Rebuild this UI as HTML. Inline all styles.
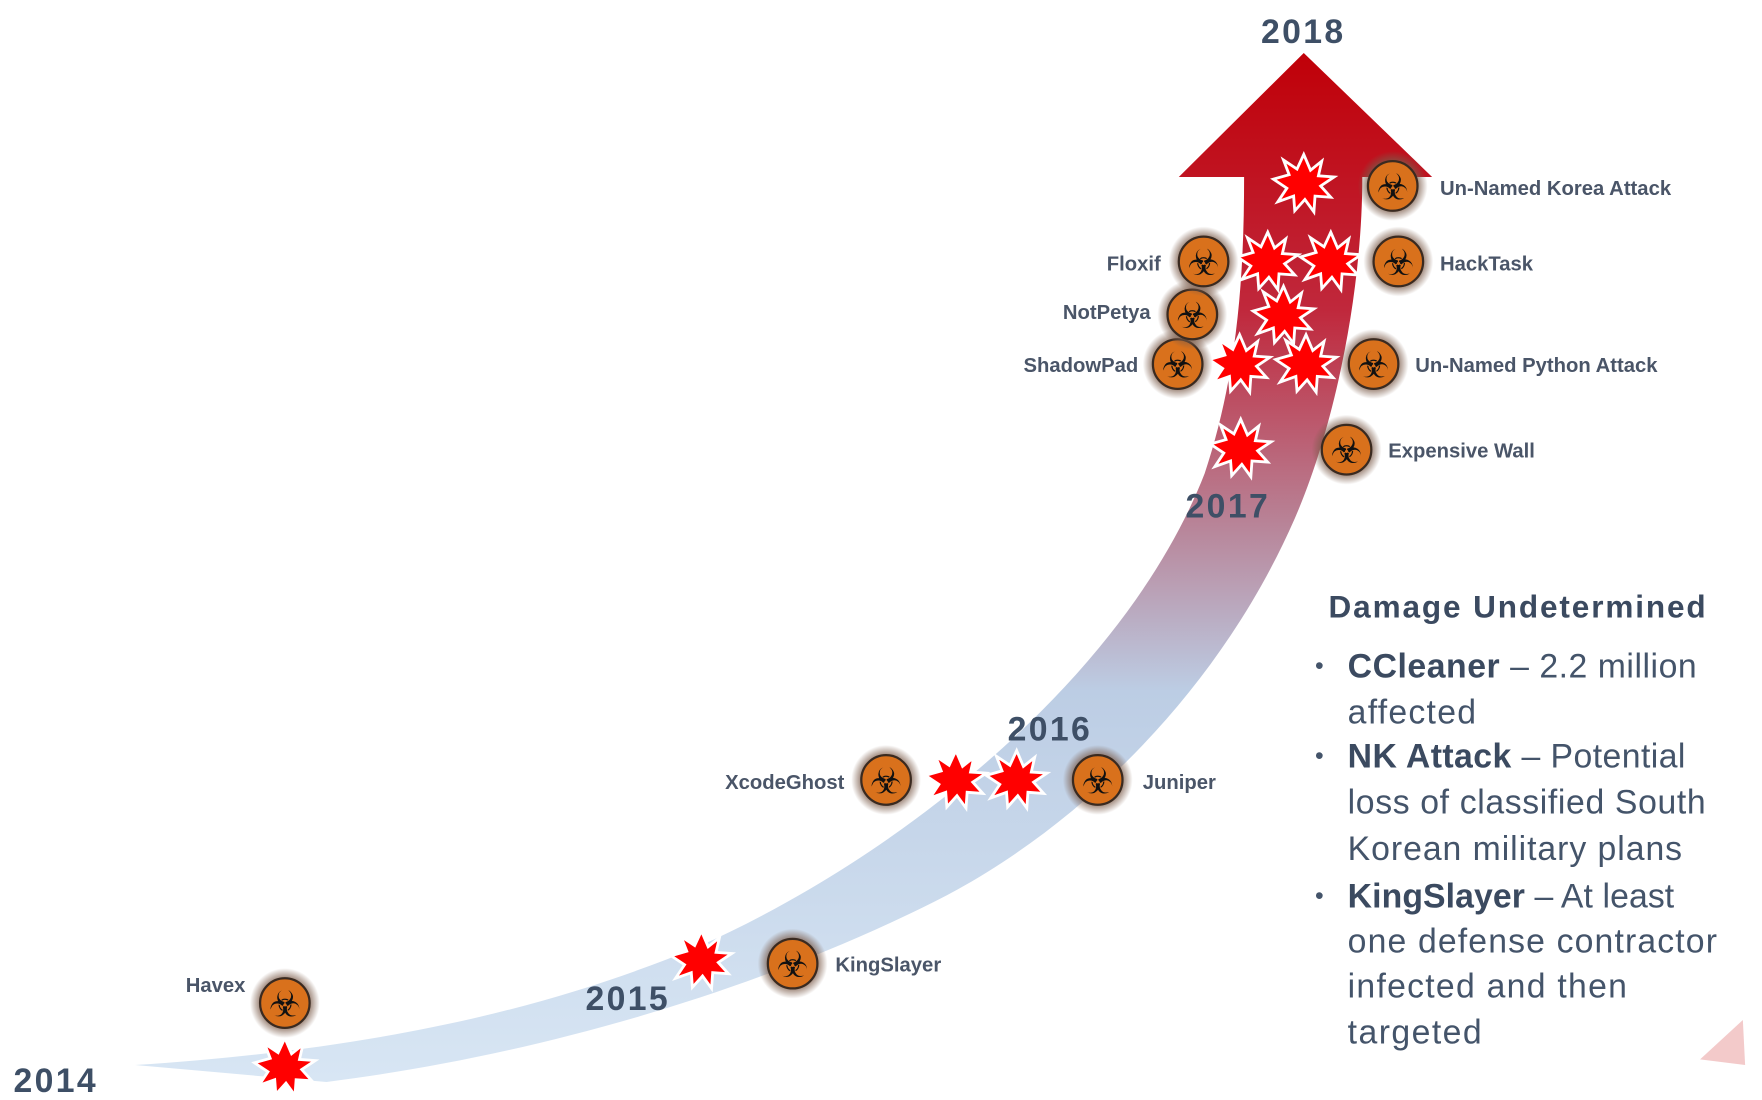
<!DOCTYPE html>
<html><head><meta charset="utf-8"><style>
html,body{margin:0;padding:0;background:#fff;}
svg{display:block;}
.lb{font-family:"Liberation Sans",sans-serif;font-weight:bold;font-size:18px;fill:#4a5568;}
.yr{font-family:"Liberation Sans",sans-serif;font-weight:bold;font-size:30px;fill:#3e4f66;}
.tx{font-family:"Liberation Sans Narrow","Liberation Sans",sans-serif;font-size:30px;fill:#44546a;}
.b{font-weight:bold;fill:#3b4a60;}
</style></head><body>
<svg width="1762" height="1100" viewBox="0 0 1565 976" preserveAspectRatio="none" xmlns="http://www.w3.org/2000/svg">
<defs>
<linearGradient id="g" x1="0" y1="0" x2="0" y2="1" gradientUnits="objectBoundingBox">
<stop offset="0" stop-color="#c00008"/>
<stop offset="0.25" stop-color="#c0283c"/>
<stop offset="0.45" stop-color="#b88094"/>
<stop offset="0.62" stop-color="#bccde4"/>
<stop offset="1" stop-color="#d8e6f4"/>
</linearGradient>
<radialGradient id="halo"><stop offset="0.6" stop-color="#7a5a48"/><stop offset="1" stop-color="#7a5a48" stop-opacity="0"/></radialGradient>
<symbol id="bio" viewBox="-32 -32 64 64" overflow="visible">
<circle r="31" fill="url(#halo)"/>
<circle r="22" fill="#d9711c" stroke="#3a2a20" stroke-width="2"/>
<text y="12" text-anchor="middle" font-family="DejaVu Sans,sans-serif" font-size="32" fill="#111">☣</text>
</symbol>
<symbol id="st" viewBox="-30 -30 60 60" overflow="visible">
<polygon fill="#ff0000" stroke="#fff" stroke-width="2.5" points="0,-26 6,-12 16,-20 13,-7 27,-6 15,2 24,12 10,11 9,25 1,14 -8,24 -9,11 -23,16 -15,4 -27,-4 -13,-8 -18,-21 -6,-13"/>
</symbol>
</defs>
<path d="M120,945 C350,930 500,890 620,840 C800,760 1000,600 1070,420 C1100,330 1105,240 1105,157 L1047,157 L1158,47 L1272,157 L1210,157 C1210,260 1185,380 1150,460 C1080,620 950,740 830,800 C650,890 450,940 290,960 Z" fill="url(#g)"/>
<polygon points="1510,940 1548,905 1550,945" fill="#f3caca"/>
<use href="#st" x="223" y="917" width="60" height="60"/>
<use href="#st" x="593" y="822" width="60" height="60"/>
<use href="#st" x="819" y="662" width="60" height="60"/>
<use href="#st" x="873" y="662" width="60" height="60"/>
<use href="#st" x="1072" y="368" width="60" height="60"/>
<use href="#st" x="1071" y="293" width="60" height="60"/>
<use href="#st" x="1130" y="293" width="60" height="60"/>
<use href="#st" x="1110" y="250" width="60" height="60"/>
<use href="#st" x="1096" y="202" width="60" height="60"/>
<use href="#st" x="1152" y="202" width="60" height="60"/>
<use href="#st" x="1128" y="133" width="60" height="60"/>
<use href="#bio" x="221" y="858" width="64" height="64"/>
<use href="#bio" x="672" y="823" width="64" height="64"/>
<use href="#bio" x="755" y="660" width="64" height="64"/>
<use href="#bio" x="943" y="660" width="64" height="64"/>
<use href="#bio" x="1164" y="367" width="64" height="64"/>
<use href="#bio" x="1014" y="291" width="64" height="64"/>
<use href="#bio" x="1188" y="291" width="64" height="64"/>
<use href="#bio" x="1027" y="247" width="64" height="64"/>
<use href="#bio" x="1037" y="200" width="64" height="64"/>
<use href="#bio" x="1210" y="200" width="64" height="64"/>
<use href="#bio" x="1205" y="133" width="64" height="64"/>
<g class="lb">
<text x="218" y="880" text-anchor="end">Havex</text>
<text x="750" y="700" text-anchor="end">XcodeGhost</text>
<text x="1031" y="240" text-anchor="end">Floxif</text>
<text x="1022" y="283" text-anchor="end">NotPetya</text>
<text x="1011" y="330" text-anchor="end">ShadowPad</text>
<text x="742" y="862">KingSlayer</text>
<text x="1015" y="700">Juniper</text>
<text x="1233" y="406">Expensive Wall</text>
<text x="1257" y="330">Un-Named Python Attack</text>
<text x="1279" y="240">HackTask</text>
<text x="1279" y="173">Un-Named Korea Attack</text>
</g>
<g class="yr">
<text x="12" y="969" textLength="73">2014</text>
<text x="520" y="896" textLength="73">2015</text>
<text x="895" y="657" textLength="73">2016</text>
<text x="1053" y="459" textLength="73">2017</text>
<text x="1120" y="38" textLength="73">2018</text>
</g>
<g class="tx">
<text x="1180" y="548" class="b" font-size="28" textLength="335">Damage Undetermined</text>
<text x="1168" y="598" font-size="22">•</text>
<text x="1197" y="601" textLength="310"><tspan class="b">CCleaner</tspan> – 2.2 million</text>
<text x="1197" y="642" textLength="114">affected</text>
<text x="1168" y="678" font-size="22">•</text>
<text x="1197" y="681" textLength="300"><tspan class="b">NK Attack</tspan> – Potential</text>
<text x="1197" y="722" textLength="318">loss of classified South</text>
<text x="1197" y="763" textLength="297">Korean military plans</text>
<text x="1168" y="802" font-size="22">•</text>
<text x="1197" y="805" textLength="290"><tspan class="b">KingSlayer</tspan> – At least</text>
<text x="1197" y="845" textLength="328">one defense contractor</text>
<text x="1197" y="885" textLength="248">infected and then</text>
<text x="1197" y="926" textLength="119">targeted</text>
</g>
</svg>
</body></html>
